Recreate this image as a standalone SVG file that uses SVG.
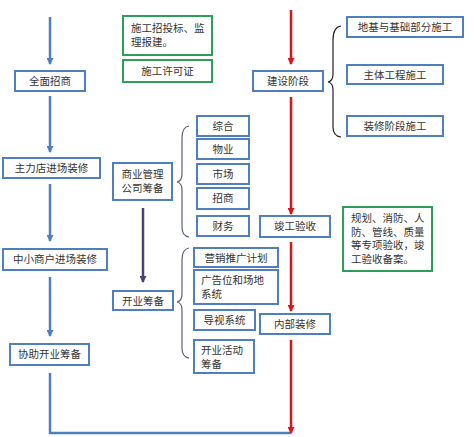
<svg xmlns="http://www.w3.org/2000/svg" width="474" height="437" viewBox="0 0 474 437">
<style>
.b{fill:#fff;stroke:#4f7fbf;stroke-width:2}
.g{fill:#fff;stroke:#2e9e5a;stroke-width:2}
text{font-family:"Noto Sans CJK SC","Noto Sans",sans-serif;font-size:10.5px;fill:#333}
.c{text-anchor:middle}
.ab{stroke:#4f7fbf;stroke-width:2.5;fill:none}
.ar{stroke:#d9141b;stroke-width:2.5;fill:none}
.ap{stroke:#4a3f7c;stroke-width:2.5;fill:none}
.br{stroke:#222;stroke-width:1.2;fill:none}
.bm{stroke:#5a5f78;stroke-width:1.2;fill:none}
</style>
<defs>
<marker id="mr" markerWidth="7" markerHeight="7" refX="6" refY="3.5" orient="auto" markerUnits="userSpaceOnUse"><path d="M0,0 L7,3.5 L0,7 z" fill="#d9141b"/></marker>
<marker id="mbl" markerWidth="7" markerHeight="7" refX="6" refY="3.5" orient="auto" markerUnits="userSpaceOnUse"><path d="M0,0 L7,3.5 L0,7 z" fill="#4f7fbf"/></marker>
<marker id="mp" markerWidth="7" markerHeight="7" refX="6" refY="3.5" orient="auto" markerUnits="userSpaceOnUse"><path d="M0,0 L7,3.5 L0,7 z" fill="#4a3f7c"/></marker>
</defs>
<g id="connectors">
<path class="ab" d="M50,17 V64" marker-end="url(#mbl)"/>
<path class="ab" d="M50,96 V152" marker-end="url(#mbl)"/>
<path class="ab" d="M50,184 V241" marker-end="url(#mbl)"/>
<path class="ab" d="M50,277 V336" marker-end="url(#mbl)"/>
<path class="ab" d="M50,373 V433 H291"/>
<path class="ar" d="M291,10 V64" marker-end="url(#mr)"/>
<path class="ar" d="M291,97 V214" marker-end="url(#mr)"/>
<path class="ar" d="M291,242 V311" marker-end="url(#mr)"/>
<path class="ar" d="M291,340 V433" marker-end="url(#mr)"/>
<path class="ap" d="M143,208 V282" marker-end="url(#mp)"/>
<path class="br" d="M341,26 Q333,27 333,40 V74 Q333,81 328,82 Q333,83 333,90 V127 Q333,136 341,137"/>
<path class="bm" d="M189,126 Q182,127 182,138 V174 Q182,181 177,182 Q182,183 182,190 V227 Q182,236 189,237"/>
<path class="bm" d="M189,248 Q182,249 182,260 V294 Q182,301 177,302 Q182,303 182,310 V348 Q182,357 189,358"/>
</g>
<g id="n1"><rect class="b" x="15" y="71" width="70" height="20"/><text class="c" x="50" y="85">全面招商</text></g>
<g id="n2"><rect class="b" x="3" y="158" width="97" height="20"/><text class="c" x="51.5" y="172">主力店进场装修</text></g>
<g id="n3"><rect class="b" x="3" y="249" width="104" height="21"/><text class="c" x="55" y="263">中小商户进场装修</text></g>
<g id="n4"><rect class="b" x="10" y="344" width="79" height="21"/><text class="c" x="49.5" y="358">协助开业筹备</text></g>
<g id="n5"><rect class="g" x="123" y="16" width="89" height="39"/><text x="131" y="32">施工招投标、监</text><text x="131" y="46">理报建。</text></g>
<g id="n6"><rect class="g" x="123" y="60" width="89" height="22"/><text class="c" x="167.5" y="75">施工许可证</text></g>
<g id="n7"><rect class="b" x="253" y="71" width="70" height="20"/><text class="c" x="288" y="85">建设阶段</text></g>
<g id="n8"><rect class="b" x="347" y="17" width="116" height="20"/><text class="c" x="405" y="31">地基与基础部分施工</text></g>
<g id="n9"><rect class="b" x="347" y="65" width="96" height="19"/><text class="c" x="395" y="78.5">主体工程施工</text></g>
<g id="n10"><rect class="b" x="347" y="116" width="96" height="20"/><text class="c" x="395" y="130">装修阶段施工</text></g>
<g id="n11"><rect class="b" x="260" y="216" width="70" height="21"/><text class="c" x="295" y="230">竣工验收</text></g>
<g id="n12"><rect class="g" x="343" y="207" width="89" height="64"/><text x="351" y="222">规划、消防、人</text><text x="351" y="235.5">防、管线、质量</text><text x="351" y="249">等专项验收，竣</text><text x="351" y="262.5">工验收备案。</text></g>
<g id="n13"><rect class="b" x="260" y="314" width="70" height="20"/><text class="c" x="295" y="328">内部装修</text></g>
<g id="n14"><rect class="b" x="113" y="163" width="59" height="37"/><text class="c" x="142.5" y="178">商业管理</text><text class="c" x="142.5" y="192">公司筹备</text></g>
<g id="n15"><rect class="b" x="197" y="116" width="52" height="20"/><text class="c" x="223" y="130">综合</text></g>
<g id="n16"><rect class="b" x="197" y="139" width="52" height="20"/><text class="c" x="223" y="153">物业</text></g>
<g id="n17"><rect class="b" x="197" y="164" width="52" height="20"/><text class="c" x="223" y="178">市场</text></g>
<g id="n18"><rect class="b" x="197" y="188" width="52" height="21"/><text class="c" x="223" y="202">招商</text></g>
<g id="n19"><rect class="b" x="197" y="216" width="52" height="20"/><text class="c" x="223" y="230">财务</text></g>
<g id="n20"><rect class="b" x="113" y="291" width="60" height="19"/><text class="c" x="143" y="304.5">开业筹备</text></g>
<g id="n21"><rect class="b" x="194" y="248" width="84" height="19"/><text class="c" x="236" y="261.5">营销推广计划</text></g>
<g id="n22"><rect class="b" x="194" y="270" width="84" height="34"/><text x="201" y="284">广告位和场地</text><text x="201" y="298">系统</text></g>
<g id="n23"><rect class="b" x="194" y="310" width="61" height="20"/><text class="c" x="224.5" y="324">导视系统</text></g>
<g id="n24"><rect class="b" x="194" y="340" width="60" height="33"/><text x="201" y="354">开业活动</text><text x="201" y="368">筹备</text></g>
</svg>
